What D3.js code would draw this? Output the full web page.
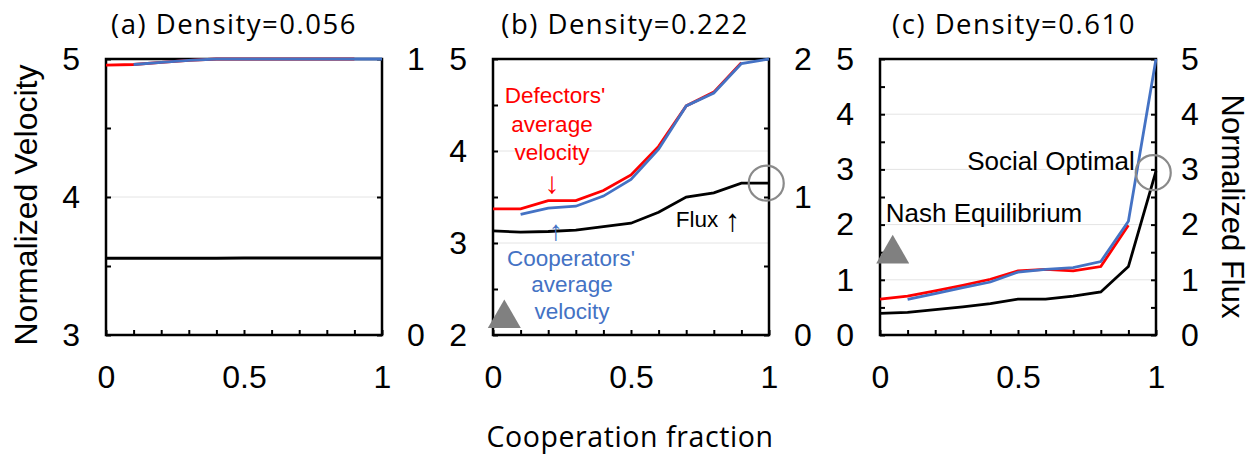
<!DOCTYPE html>
<html>
<head>
<meta charset="utf-8">
<script src="https://cdn.jsdelivr.net/npm/d3@7"></script>
<style>
  body { margin: 0; background: #fff; }
  svg { display: block; }
  .tick text { font-family: "Liberation Sans", Arial, sans-serif; font-size: 32px; fill: #000; }
  .tick line { stroke: #000; stroke-width: 2; }
</style>
</head>
<body>
<svg id="chart" width="1257" height="456"></svg>
<script>
// cooperation fraction (x) values
const coopFrac = [0, 0.1, 0.2, 0.3, 0.4, 0.5, 0.6, 0.7, 0.8, 0.9, 1];
const defFrac = [0, 0.1, 0.2, 0.3, 0.4, 0.5, 0.6, 0.7, 0.8, 0.9];     // defectors exist up to 0.9
const cooFrac = [0.1, 0.2, 0.3, 0.4, 0.5, 0.6, 0.7, 0.8, 0.9, 1];     // cooperators from 0.1

const titles = ["(a) Density=0.056", "(b) Density=0.222", "(c) Density=0.610"];

// (a) density 0.056
const defectA = [4.955, 4.96, 4.975, 4.99, 5.0, 5.0, 5.0, 5.0, 5.0, 5.0];
const cooperA = [4.96, 4.975, 4.99, 5.0, 5.0, 5.0, 5.0, 5.0, 5.0, 5.0];
const fluxA = [0.278, 0.278, 0.278, 0.278, 0.278, 0.279, 0.279, 0.279, 0.279, 0.279, 0.279];

// (b) density 0.222
const defectB = [3.37, 3.37, 3.46, 3.46, 3.57, 3.74, 4.05, 4.49, 4.64, 4.96];
const cooperB = [3.31, 3.38, 3.40, 3.51, 3.69, 4.02, 4.49, 4.63, 4.95, 5.0];
const fluxB = [0.754, 0.746, 0.75, 0.76, 0.785, 0.81, 0.89, 1.0, 1.03, 1.10, 1.10];

// (c) density 0.610
const defectC = [0.65, 0.705, 0.80, 0.90, 1.01, 1.16, 1.19, 1.16, 1.24, 1.99];
const cooperC = [0.645, 0.75, 0.86, 0.96, 1.14, 1.19, 1.22, 1.33, 2.06, 5.0];
const fluxC = [0.39, 0.41, 0.46, 0.51, 0.57, 0.65, 0.65, 0.705, 0.78, 1.24, 2.97];

// markers: Nash equilibrium (triangle, velocity axis) and social optimum (circle, flux axis)
const nashB = [0.041, 2.18], optimB = [0.99, 1.10];
const nashC = [0.046, 1.47], optimC = [0.99, 2.94];

const panels = [
  { title: titles[0], left: 106, titleX: 234, vel: [3, 5], flx: [0, 1],
    velTicks: [3, 3.5, 4, 4.5, 5], flxTicks: [0, 0.5, 1],
    defect: defectA, cooper: cooperA, flux: fluxA },
  { title: titles[1], left: 493, titleX: 625, vel: [2, 5], flx: [0, 2],
    velTicks: [2, 2.5, 3, 3.5, 4, 4.5, 5], flxTicks: [0, 0.5, 1, 1.5, 2],
    defect: defectB, cooper: cooperB, flux: fluxB, nash: nashB, optim: optimB },
  { title: titles[2], left: 880, titleX: 1014, vel: [0, 5], flx: [0, 5],
    velTicks: [0, 0.5, 1, 1.5, 2, 2.5, 3, 3.5, 4, 4.5, 5], flxTicks: [0, 0.5, 1, 1.5, 2, 2.5, 3, 3.5, 4, 4.5, 5],
    defect: defectC, cooper: cooperC, flux: fluxC, nash: nashC, optim: optimC }
];

const svg = d3.select("#chart");
const plotTop = 59, size = 276;
const intFmt = d => Number.isInteger(d) ? d : "";
const sans = "'Liberation Sans', Arial, sans-serif";
const titleFont = "'Open Sans', Lato, sans-serif";

panels.forEach(p => {
  const x = d3.scaleLinear().domain([0, 1]).range([p.left, p.left + size]);
  const yL = d3.scaleLinear().domain(p.vel).range([plotTop + size, plotTop]);
  const yR = d3.scaleLinear().domain(p.flx).range([plotTop + size, plotTop]);

  // light gridlines on integer velocity ticks
  svg.append("g").selectAll("line")
    .data(p.velTicks.filter(d => Number.isInteger(d) && d > p.vel[0] && d < p.vel[1]))
    .join("line")
    .attr("x1", p.left).attr("x2", p.left + size)
    .attr("y1", d => yL(d)).attr("y2", d => yL(d))
    .attr("stroke", "#e4e4e4").attr("stroke-width", 1);

  const gL = svg.append("g").attr("transform", `translate(${p.left},0)`)
    .call(d3.axisLeft(yL).tickValues(p.velTicks).tickSize(-5).tickPadding(26).tickFormat(intFmt));
  const gR = svg.append("g").attr("transform", `translate(${p.left + size},0)`)
    .call(d3.axisRight(yR).tickValues(p.flxTicks).tickSize(-5).tickPadding(25).tickFormat(intFmt));
  const gB = svg.append("g").attr("transform", `translate(0,${plotTop + size})`)
    .call(d3.axisBottom(x).tickValues(coopFrac).tickSize(-5).tickPadding(30)
      .tickFormat(d => (d === 0 || d === 0.5 || d === 1) ? d : ""));
  [gL, gR, gB].forEach(g => { g.attr("font-size", null).attr("font-family", null); g.select(".domain").remove(); });

  svg.append("rect")
    .attr("x", p.left).attr("y", plotTop).attr("width", size).attr("height", size)
    .attr("fill", "none").attr("stroke", "#000").attr("stroke-width", 2.5);

  const lineL = d3.line().x(d => x(d[0])).y(d => yL(d[1]));
  const lineR = d3.line().x(d => x(d[0])).y(d => yR(d[1]));

  svg.append("path").datum(d3.zip(defFrac, p.defect))
    .attr("d", lineL).attr("fill", "none").attr("stroke", "#ff0000").attr("stroke-width", 2.8);
  svg.append("path").datum(d3.zip(cooFrac, p.cooper))
    .attr("d", lineL).attr("fill", "none").attr("stroke", "#4472c4").attr("stroke-width", 2.8);
  svg.append("path").datum(d3.zip(coopFrac, p.flux))
    .attr("d", lineR).attr("fill", "none").attr("stroke", "#000").attr("stroke-width", 2.8);

  if (p.optim) {
    svg.append("circle")
      .attr("cx", x(p.optim[0])).attr("cy", yR(p.optim[1])).attr("r", 17.5)
      .attr("fill", "none").attr("stroke", "#8a8a8a").attr("stroke-width", 2.2);
  }
  if (p.nash) {
    svg.append("path")
      .attr("d", d3.symbol(d3.symbolTriangle, 472)())
      .attr("transform", `translate(${x(p.nash[0])},${yL(p.nash[1])})`)
      .attr("fill", "#808080");
  }

  svg.append("text")
    .attr("x", p.titleX).attr("y", 34)
    .attr("text-anchor", "middle")
    .attr("font-family", titleFont).attr("font-size", 27.5)
    .attr("letter-spacing", 1.5)
    .text(p.title);
});

// axis titles
svg.append("text")
  .attr("transform", "translate(36.5,205) rotate(-90)")
  .attr("text-anchor", "middle").attr("font-family", sans).attr("font-size", 32)
  .text("Normalized Velocity");
svg.append("text")
  .attr("transform", "translate(1222,206.5) rotate(90)")
  .attr("text-anchor", "middle").attr("font-family", sans).attr("font-size", 31)
  .text("Normalized Flux");
svg.append("text")
  .attr("x", 630).attr("y", 447)
  .attr("text-anchor", "middle")
  .attr("font-family", titleFont).attr("font-size", 28.5)
  .attr("letter-spacing", 0.6)
  .text("Cooperation fraction");

// annotations
const notes = [
  { t: "Defectors'", x: 555, y: 103, c: "#ff0000", s: 22.5 },
  { t: "average", x: 552, y: 132, c: "#ff0000", s: 22.5 },
  { t: "velocity", x: 552, y: 160, c: "#ff0000", s: 22.5 },
  { t: "↓", x: 552, y: 193, c: "#ff0000", s: 30 },
  { t: "↑", x: 556, y: 240, c: "#4472c4", s: 28 },
  { t: "Cooperators'", x: 571, y: 266, c: "#4472c4", s: 22.5 },
  { t: "average", x: 572, y: 292, c: "#4472c4", s: 22.5 },
  { t: "velocity", x: 572, y: 319, c: "#4472c4", s: 22.5 },
  { t: "Social Optimal", x: 1051, y: 170, c: "#000", s: 26 },
  { t: "Nash Equilibrium", x: 984, y: 221.5, c: "#000", s: 26 }
];
svg.append("g").selectAll("text")
  .data(notes)
  .join("text")
  .attr("x", d => d.x).attr("y", d => d.y)
  .attr("text-anchor", "middle")
  .attr("font-family", sans).attr("font-size", d => d.s)
  .attr("fill", d => d.c)
  .text(d => d.t);

// "Flux" label with a taller arrow glyph
const fluxNote = svg.append("text")
  .attr("x", 708).attr("y", 226.5)
  .attr("text-anchor", "middle")
  .attr("font-family", sans).attr("font-size", 22.5);
fluxNote.append("tspan").text("Flux ");
fluxNote.append("tspan").attr("font-size", 31).attr("dy", 4).text("↑");
</script>
</body>
</html>
